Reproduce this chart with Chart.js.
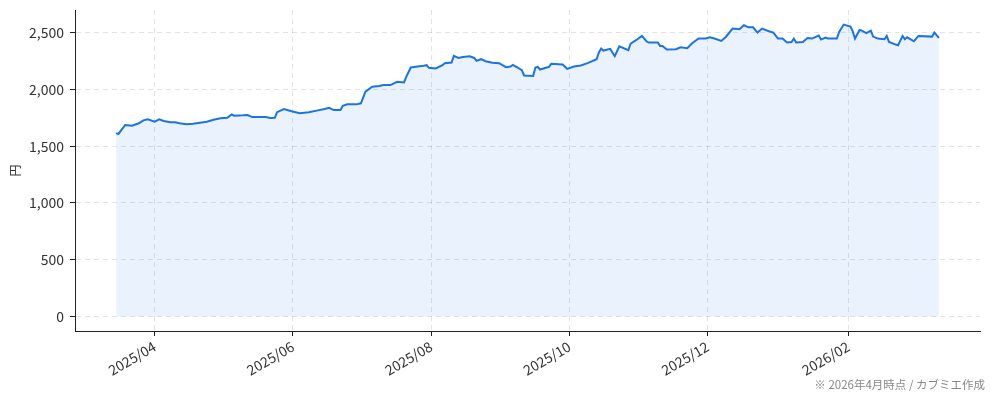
<html><head>
<meta charset="utf-8">
<script src="https://cdn.jsdelivr.net/npm/chart.js@4.4.1/dist/chart.umd.min.js"></script>
<style>
  body { margin: 0; background: #fff; }
  #wrap { width: 994px; height: 400px; }
</style>
</head>
<body>
<div id="wrap"><canvas id="price-chart" width="994" height="400"></canvas></div>
<script>

// 株価の推移（読み取り値）
var dates = [
  "2025-03-15","2025-03-16","2025-03-19","2025-03-22","2025-03-25","2025-03-27","2025-03-29",
  "2025-04-01","2025-04-03","2025-04-05","2025-04-08","2025-04-10","2025-04-12","2025-04-15",
  "2025-04-18","2025-04-21","2025-04-24","2025-04-27","2025-04-30","2025-05-03","2025-05-05",
  "2025-05-06","2025-05-10","2025-05-12","2025-05-14","2025-05-17","2025-05-20","2025-05-22",
  "2025-05-24","2025-05-25","2025-05-28","2025-05-31","2025-06-04","2025-06-08","2025-06-12",
  "2025-06-15","2025-06-17","2025-06-19","2025-06-22","2025-06-23","2025-06-25","2025-06-29",
  "2025-07-01","2025-07-03","2025-07-06","2025-07-09","2025-07-11","2025-07-14","2025-07-17",
  "2025-07-20","2025-07-21","2025-07-23","2025-07-26","2025-07-28","2025-07-30","2025-07-31",
  "2025-08-03","2025-08-06","2025-08-07","2025-08-10","2025-08-11","2025-08-13","2025-08-15",
  "2025-08-18","2025-08-20","2025-08-21","2025-08-23","2025-08-25","2025-08-28","2025-08-31",
  "2025-09-03","2025-09-05","2025-09-06","2025-09-08","2025-09-10","2025-09-11","2025-09-15",
  "2025-09-16","2025-09-17","2025-09-18","2025-09-21","2025-09-22","2025-09-23","2025-09-28",
  "2025-09-30","2025-10-03","2025-10-06","2025-10-09","2025-10-13","2025-10-14","2025-10-15",
  "2025-10-16","2025-10-19","2025-10-21","2025-10-23","2025-10-27","2025-10-28","2025-10-31",
  "2025-11-02","2025-11-04","2025-11-05","2025-11-09","2025-11-10","2025-11-11","2025-11-13",
  "2025-11-17","2025-11-19","2025-11-22","2025-11-24","2025-11-27","2025-11-30","2025-12-02",
  "2025-12-04","2025-12-07","2025-12-09","2025-12-12","2025-12-15","2025-12-17","2025-12-19",
  "2025-12-21","2025-12-23","2025-12-25","2025-12-28","2025-12-30","2026-01-01","2026-01-03",
  "2026-01-05","2026-01-07","2026-01-08","2026-01-09","2026-01-12","2026-01-14","2026-01-16",
  "2026-01-19","2026-01-20","2026-01-22","2026-01-23","2026-01-27","2026-01-28","2026-01-30",
  "2026-02-02","2026-02-03","2026-02-04","2026-02-06","2026-02-07","2026-02-09","2026-02-11",
  "2026-02-12","2026-02-14","2026-02-17","2026-02-18","2026-02-19","2026-02-22","2026-02-23",
  "2026-02-25","2026-02-26","2026-02-27","2026-03-02","2026-03-04","2026-03-10","2026-03-11",
  "2026-03-13"
];

var prices = [
  1615,1608,1687,1681,1702,1728,1737,
  1716,1737,1722,1711,1711,1702,1693,
  1698,1707,1716,1734,1746,1751,1781,
  1769,1772,1775,1757,1757,1757,1749,
  1751,1800,1828,1810,1790,1799,1816,
  1828,1839,1819,1819,1857,1869,1869,
  1878,1980,2024,2030,2039,2039,2068,
  2062,2111,2194,2203,2206,2214,2191,
  2185,2214,2232,2238,2296,2278,2287,
  2293,2278,2252,2267,2249,2235,2232,
  2197,2203,2217,2194,2170,2124,2120,
  2194,2199,2176,2194,2199,2226,2220,
  2182,2203,2212,2232,2267,2326,2361,
  2343,2358,2293,2381,2346,2405,2443,
  2472,2425,2414,2414,2384,2384,2352,
  2355,2372,2364,2405,2449,2449,2460,
  2449,2428,2463,2537,2531,2566,2548,
  2548,2502,2537,2513,2502,2449,2449,
  2414,2419,2449,2414,2419,2454,2449,
  2475,2440,2457,2449,2449,2507,2572,
  2554,2513,2449,2525,2519,2496,2519,
  2466,2449,2443,2472,2419,2396,2390,
  2472,2443,2460,2425,2472,2466,2502,
  2454
];

var xTickDates = ["2025-04-01","2025-06-01","2025-08-01","2025-10-01","2025-12-01","2026-02-01"];
var yTicks = [0, 500, 1000, 1500, 2000, 2500];
var yLabel = "円";
var footnote = "※ 2026年4月時点 / カブミエ作成";

var FONT = "'Noto Sans CJK JP', 'Noto Sans', sans-serif";
var points = dates.map(function(d, i) { return { x: Date.parse(d), y: prices[i] }; });

var first = points[0].x, last = points[points.length - 1].x;
var span = last - first;
var maxPrice = Math.max.apply(null, prices);

function fmtMonth(v) {
  var d = new Date(v);
  return d.getUTCFullYear() + "/" + ("0" + (d.getUTCMonth() + 1)).slice(-2);
}

var footnotePlugin = {
  id: 'footnote',
  afterDraw: function(chart) {
    var ctx = chart.ctx;
    ctx.save();
    ctx.font = "11.5px " + FONT;
    ctx.fillStyle = "#888";
    ctx.textAlign = "right";
    ctx.textBaseline = "middle";
    ctx.fillText(footnote, 985, 385);
    ctx.restore();
  }
};

new Chart(document.getElementById("price-chart"), {
  type: 'line',
  data: {
    datasets: [{
      data: points,
      borderColor: "#1a73e8",
      backgroundColor: "rgba(26,115,232,0.09)",
      borderWidth: 2,
      pointRadius: 0,
      tension: 0,
      fill: 'origin'
    }]
  },
  options: {
    responsive: false,
    animation: false,
    layout: { padding: { left: 8, right: 14, top: 10, bottom: 0 } },
    plugins: {
      legend: { display: false },
      tooltip: { enabled: false }
    },
    scales: {
      x: {
        type: 'linear',
        min: first - span * 0.05,
        max: last + span * 0.05,
        afterBuildTicks: function(scale) {
          scale.ticks = xTickDates.map(function(d) { return { value: Date.parse(d) }; });
        },
        afterFit: function(scale) {
          scale.height = 69;
          scale.paddingLeft = 0;
          scale.paddingRight = 0;
        },
        ticks: {
          autoSkip: false,
          minRotation: 30,
          maxRotation: 30,
          padding: 2,
          color: "#333",
          font: { family: FONT, size: 14 },
          callback: function(v) { return fmtMonth(v); }
        },
        grid: {
          color: "rgba(0,0,0,0.11)",
          tickColor: "#222",
          tickLength: 5,
          tickBorderDash: []
        },
        border: { display: true, color: "#222", width: 1, dash: [5, 4] }
      },
      y: {
        min: -maxPrice * 0.05,
        max: maxPrice * 1.05,
        afterBuildTicks: function(scale) {
          scale.ticks = yTicks.map(function(v) { return { value: v }; });
        },
        afterFit: function(scale) {
          scale.width = 67;
          scale.paddingTop = 0;
          scale.paddingBottom = 0;
        },
        title: {
          display: true,
          text: yLabel,
          color: "#333",
          font: { family: FONT, size: 12 },
          padding: { top: 0, bottom: 0 }
        },
        ticks: {
          padding: 6,
          color: "#333",
          font: { family: FONT, size: 14 },
          callback: function(v) { return v.toLocaleString('en-US'); }
        },
        grid: {
          color: "rgba(0,0,0,0.11)",
          tickColor: "#222",
          tickLength: 5,
          tickBorderDash: []
        },
        border: { display: true, color: "#222", width: 1, dash: [5, 4] }
      }
    }
  },
  plugins: [footnotePlugin]
});
</script>
</body>
</html>
